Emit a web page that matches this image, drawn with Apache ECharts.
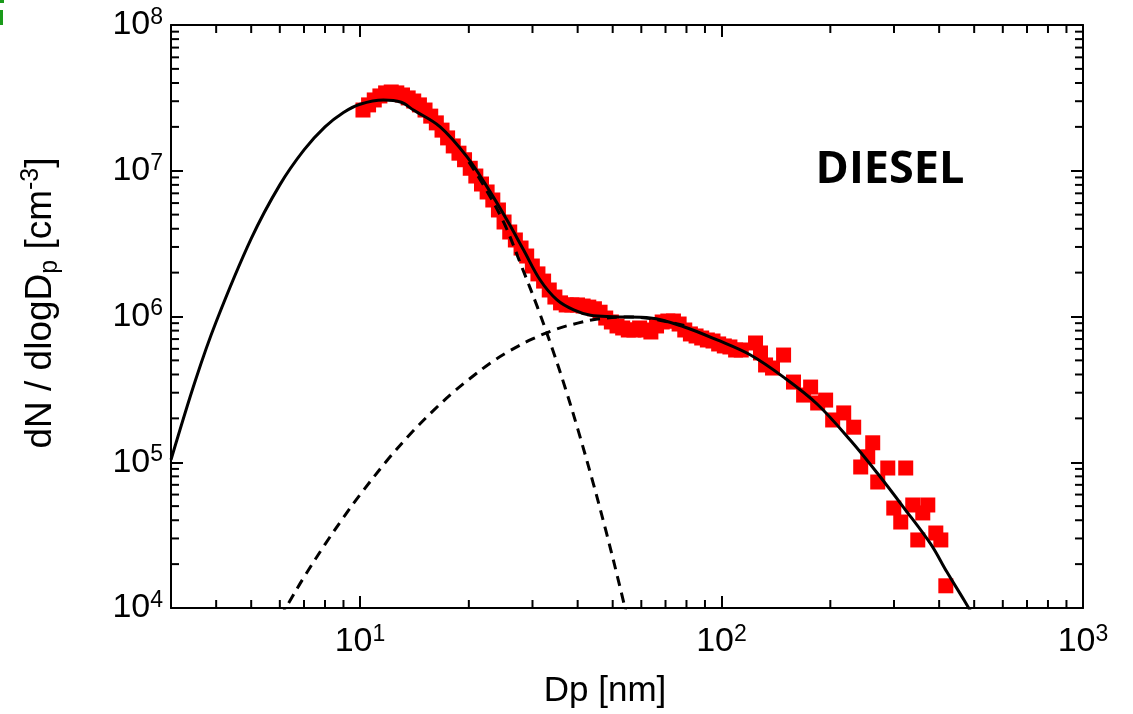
<!DOCTYPE html>
<html>
<head>
<meta charset="utf-8">
<script src="https://cdn.jsdelivr.net/npm/echarts@6/dist/echarts.min.js"></script>
<style>html,body{margin:0;padding:0;background:#fff;}#chart{width:1133px;height:714px;}</style>
</head>
<body>
<div id="chart"></div>
<script>
// ---------- data ----------
const xRange = [3, 1000];          // Dp [nm]
const yRange = [1e4, 1e8];         // dN/dlogDp [cm^-3]

// measured size distribution (red squares)
const measDp = [10.19,10.56,10.95,11.35,11.77,12.20,12.64,13.11,13.59,14.08,14.60,15.13,15.69,16.26,16.86,17.47,18.11,18.78,19.46,20.18,20.91,21.68,22.47,23.30,24.15,25.03,25.95,26.90,27.89,28.91,29.97,31.06,32.20,33.38,34.60,35.87,37.18,38.54,39.96,41.42,42.94,44.51,46.14,47.83,49.58,51.40,53.28,55.23,57.25,59.35,61.52,63.77,66.11,68.53,71.04,73.64,76.34,79.13,82.03,85.04,88.15,91.38,94.73,98.20,101.8,105.5,109.4,113.4,
  124.2,128.2,132.4,138.4,148.5,158.2,168.7,176.4,184.5,194.1,203.0,217.8,232.1,242.7,253.8,262.0,270.5,288.4,299.6,313.2,323.3,338.1,349.1,360.4,372.1,391.6,404.3,417.4];
const measN = [2.61e7,2.83e7,3.06e7,3.26e7,3.42e7,3.47e7,3.42e7,3.31e7,3.16e7,3.01e7,2.83e7,2.61e7,2.37e7,2.13e7,1.90e7,1.68e7,1.48e7,1.32e7,1.19e7,1.04e7,9.2e6,8.11e6,7.15e6,6.30e6,5.38e6,4.45e6,3.80e6,3.35e6,2.95e6,2.60e6,2.22e6,1.96e6,1.75e6,1.52e6,1.36e6,1.24e6,1.20e6,1.20e6,1.20e6,1.18e6,1.16e6,1.13e6,1.07e6,9.76e5,9.17e5,8.61e5,8.34e5,8.08e5,8.08e5,8.34e5,8.08e5,7.83e5,8.61e5,9.17e5,9.31e5,9.31e5,8.88e5,8.08e5,7.59e5,7.35e5,7.12e5,6.90e5,6.79e5,6.48e5,6.28e5,6.18e5,5.89e5,5.89e5,
  6.58e5,5.62e5,4.65e5,4.43e5,5.44e5,3.55e5,2.89e5,3.28e5,2.55e5,2.67e5,1.95e5,2.18e5,1.74e5,9.28e4,1.09e5,1.36e5,7.32e4,9.13e4,4.85e4,3.89e4,9.13e4,5.09e4,2.93e4,4.49e4,5.09e4,3.27e4,2.93e4,1.42e4];

// total fit (solid line)
const fitDp = [3.0,3.5,4,5,6,7,8,9,10,11.6,13.0,14.05,16.66,19.75,22.44,25.5,28.35,31.5,35.07,39.0,43.4,50.3,63.6,78.6,97.3,120.3,148.8,184.1,227.6,270,319.9,379.3,420,469,500];
const fitN  = [1.04e5,3.61e5,9.2e5,3.42e6,8.0e6,1.39e7,2.0e7,2.51e7,2.86e7,3.06e7,2.95e7,2.61e7,2.0e7,1.25e7,7.78e6,4.59e6,2.86e6,1.78e6,1.30e6,1.11e6,1.02e6,9.97e5,9.77e5,8.51e5,6.90e5,5.44e5,3.82e5,2.50e5,1.41e5,8.4e4,4.85e4,2.74e4,1.77e4,1.13e4,8.6e3];

// nucleation mode (dashed)
const mode1Dp = [20,22,25,28,31,34,37,40,44,48,52,56];
const mode1N  = [1.15e7,7.9e6,4.4e6,2.2e6,1.15e6,6.06e5,3.21e5,1.70e5,7.43e4,3.31e4,1.50e4,6.95e3];

// accumulation mode (dashed)
const mode2Dp = [6.0,6.3,7,8,9,10,12,14,16,18,20,23,26,30,35,40,45,55,65,80];
const mode2N  = [8.6e3,1.05e4,1.63e4,2.73e4,4.18e4,5.98e4,1.06e5,1.63e5,2.28e5,2.98e5,3.70e5,4.82e5,5.83e5,7.02e5,8.21e5,9.01e5,9.58e5,9.92e5,9.6e5,8.61e5];

// minor tick positions
const xMinor = [4,5,6,7,8,9,20,30,40,50,60,70,80,90,200,300,400,500,600,700,800,900];
const yMinor = [2e4,3e4,4e4,5e4,6e4,7e4,8e4,9e4,2e5,3e5,4e5,5e5,6e5,7e5,8e5,9e5,2e6,3e6,4e6,5e6,6e6,7e6,8e6,9e6,2e7,3e7,4e7,5e7,6e7,7e7,8e7,9e7];

const xTitle = 'Dp [nm]';
const panelLabel = 'DIESEL';

// ---------- chart ----------
const FONT = 'Liberation Sans, Arial, Helvetica, sans-serif';
const pairs = (a, b) => a.map((v, i) => [v, b[i]]);

function powLabel(v) {
  const l = Math.log10(v), e = Math.round(l);
  if (Math.abs(l - e) > 1e-6) return '';
  return '{b|10}{s|' + e + '}';
}
const labelRich = {
  b: { fontSize: 34, fontFamily: FONT, color: '#000', lineHeight: 38 },
  s: { fontSize: 23, fontFamily: FONT, color: '#000', verticalAlign: 'top', lineHeight: 23 }
};
const axLine = { show: true, onZero: false, lineStyle: { color: '#000', width: 2 } };
const majTick = { show: true, inside: true, length: 12, lineStyle: { color: '#000', width: 2 } };

function tickRender(dir) {
  return function (params, api) {
    const len = 8;
    let a, b, s1, s2;
    if (dir === 'x') {
      const v = api.value(0);
      a = api.coord([v, yRange[0]]); b = api.coord([v, yRange[1]]);
      s1 = { x1: a[0], y1: a[1], x2: a[0], y2: a[1] - len };
      s2 = { x1: b[0], y1: b[1], x2: b[0], y2: b[1] + len };
    } else {
      const v = api.value(1);
      a = api.coord([xRange[0], v]); b = api.coord([xRange[1], v]);
      s1 = { x1: a[0], y1: a[1], x2: a[0] + len, y2: a[1] };
      s2 = { x1: b[0], y1: b[1], x2: b[0] - len, y2: b[1] };
    }
    const st = { stroke: '#000', lineWidth: 2 };
    return { type: 'group', children: [
      { type: 'line', shape: s1, style: st },
      { type: 'line', shape: s2, style: st }
    ] };
  };
}

const chart = echarts.init(document.getElementById('chart'));
chart.setOption({
  animation: false,
  backgroundColor: '#fff',
  grid: { left: 171, right: 50, top: 25, bottom: 106 },
  xAxis: [
    { type: 'log', logBase: 10, min: xRange[0], max: xRange[1], position: 'bottom',
      axisLine: axLine, axisTick: majTick, splitLine: { show: false },
      axisLabel: { formatter: powLabel, rich: labelRich, margin: 15, showMinLabel: false } },
    { type: 'log', logBase: 10, min: xRange[0], max: xRange[1], position: 'top',
      axisLine: axLine, axisTick: majTick, splitLine: { show: false }, axisLabel: { show: false } }
  ],
  yAxis: [
    { type: 'log', logBase: 10, min: yRange[0], max: yRange[1], position: 'left',
      axisLine: axLine, axisTick: majTick, splitLine: { show: false },
      axisLabel: { formatter: powLabel, rich: labelRich, margin: 8 } },
    { type: 'log', logBase: 10, min: yRange[0], max: yRange[1], position: 'right',
      axisLine: axLine, axisTick: majTick, splitLine: { show: false }, axisLabel: { show: false } }
  ],
  series: [
    { type: 'scatter', name: 'measured', data: pairs(measDp, measN), symbol: 'rect', symbolSize: 15,
      itemStyle: { color: '#ff0000', opacity: 1 }, z: 2 },
    { type: 'line', name: 'mode 1', data: pairs(mode1Dp, mode1N), smooth: 0.35, showSymbol: false, symbol: 'none',
      lineStyle: { color: '#000', width: 3, type: [10, 7] }, z: 3 },
    { type: 'line', name: 'mode 2', data: pairs(mode2Dp, mode2N), smooth: 0.35, showSymbol: false, symbol: 'none',
      lineStyle: { color: '#000', width: 3, type: [10, 7] }, z: 3 },
    { type: 'line', name: 'fit', data: pairs(fitDp, fitN), smooth: 0.35, showSymbol: false, symbol: 'none',
      lineStyle: { color: '#000', width: 3 }, z: 4 },
    { type: 'custom', name: 'xminor', data: xMinor.map(v => [v, yRange[0]]), renderItem: tickRender('x'), silent: true, z: 5 },
    { type: 'custom', name: 'yminor', data: yMinor.map(v => [xRange[0], v]), renderItem: tickRender('y'), silent: true, z: 5 }
  ],
  graphic: [
    { type: 'text', x: 605, y: 691, style: { text: xTitle, fontFamily: FONT, fontSize: 35, fill: '#000', align: 'center', verticalAlign: 'middle' } },
    { type: 'text', x: 41, y: 303, rotation: Math.PI / 2,
      style: { text: '{a|dN / dlogD}{sub|p}{a| [cm}{sup|-3}{a|]}', align: 'center', verticalAlign: 'middle',
        rich: {
          a: { fontFamily: FONT, fontSize: 37, fill: '#000', color: '#000', lineHeight: 44 },
          sub: { fontFamily: FONT, fontSize: 25, fill: '#000', color: '#000', verticalAlign: 'bottom', lineHeight: 26 },
          sup: { fontFamily: FONT, fontSize: 25, fill: '#000', color: '#000', verticalAlign: 'top', lineHeight: 26 }
        } } },
    { type: 'text', x: 890, y: 170, style: { text: panelLabel, fontFamily: 'Open Sans', fontWeight: 'bold', fontSize: 45, fill: '#000', align: 'center', verticalAlign: 'middle' } },
    { type: 'rect', shape: { x: 0, y: 0, width: 4, height: 3 }, style: { fill: '#1a9a1a' } },
    { type: 'rect', shape: { x: 0, y: 10, width: 3, height: 15 }, style: { fill: '#1a9a1a' } }
  ]
});
</script>
</body>
</html>
